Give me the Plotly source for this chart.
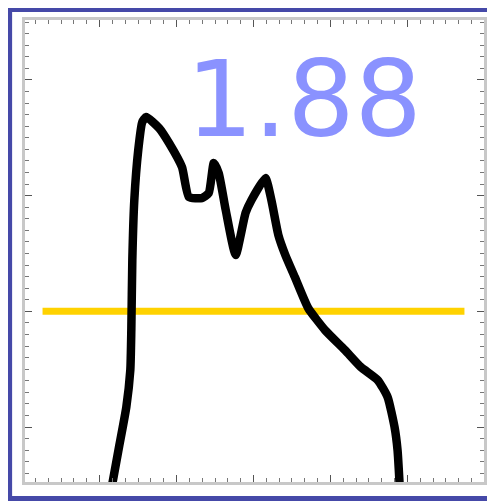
import plotly.graph_objects as go

# curve data (axis units)
curve_x = [0.168, 0.258, 0.348, 0.400, 0.413, 0.426, 0.452, 0.503, 0.555, 0.606, 0.774,
           0.903, 1.071, 1.161, 1.329, 1.419, 1.484, 1.548, 1.639, 1.768, 1.897, 1.974,
           2.155, 2.232, 2.323, 2.413, 2.542, 2.710, 2.929, 3.187, 3.394, 3.613, 3.742,
           3.832, 3.871, 3.897]
curve_y = [-0.484, -0.156, 0.173, 0.493, 0.838, 1.443, 1.962, 2.394, 2.636, 2.679, 2.584,
           2.455, 2.247, 1.988, 1.979, 2.022, 2.282, 2.195, 1.876, 1.487, 1.850, 1.962,
           2.152, 1.962, 1.659, 1.487, 1.288, 1.029, 0.838, 0.666, 0.519, 0.406, 0.259,
           0.000, -0.199, -0.484]
level_x = [-0.74, 4.74]
level_y = [1.0, 1.0]
label_text = "1.88"

fig = go.Figure()
fig.add_trace(go.Scatter(x=level_x, y=level_y, mode="lines",
                         line=dict(color="#ffd200", width=7), hoverinfo="skip"))
fig.add_trace(go.Scatter(x=curve_x, y=curve_y, mode="lines",
                         line=dict(color="black", width=8.5, shape="spline", smoothing=0.5),
                         hoverinfo="skip"))

fig.add_annotation(x=0.607, y=0.827, xref="paper", yref="paper", text=label_text,
                   showarrow=False, xanchor="center", yanchor="middle",
                   font=dict(family="DejaVu Sans", size=106, color="#8a92ff"))

border = dict(color="#4549a8", width=7)
# left, top, bottom edges of the frame (right edge lies outside the image)
fig.add_shape(type="line", xref="paper", yref="paper", x0=-0.0357, x1=-0.0357,
              y0=-0.046, y1=1.0325, line=border, layer="above")
fig.add_shape(type="line", xref="paper", yref="paper", x0=-0.0433, x1=1.2,
              y0=1.0249, y1=1.0249, line=border, layer="above")
fig.add_shape(type="line", xref="paper", yref="paper", x0=-0.0433, x1=1.2,
              y0=-0.0379, y1=-0.0379, line=border, layer="above")

axis_common = dict(showgrid=False, zeroline=False, showticklabels=False,
                   showline=True, linecolor="#c8c8c8", linewidth=3, mirror="allticks",
                   ticks="inside", ticklen=7, tickcolor="#555555", tickwidth=1)
fig.update_xaxes(range=[-0.968, 4.994], dtick=1, tick0=0,
                 minor=dict(dtick=1/6, ticks="inside", ticklen=4, tickcolor="#777777"),
                 **axis_common)
fig.update_yaxes(range=[-0.475, 3.518], dtick=1, tick0=0,
                 minor=dict(dtick=0.1, ticks="inside", ticklen=4, tickcolor="#777777"),
                 **axis_common)

fig.update_layout(width=487, height=493, showlegend=False,
                  margin=dict(l=17, r=8, t=12, b=19),
                  paper_bgcolor="white", plot_bgcolor="white")

fig.write_html("out.html")
